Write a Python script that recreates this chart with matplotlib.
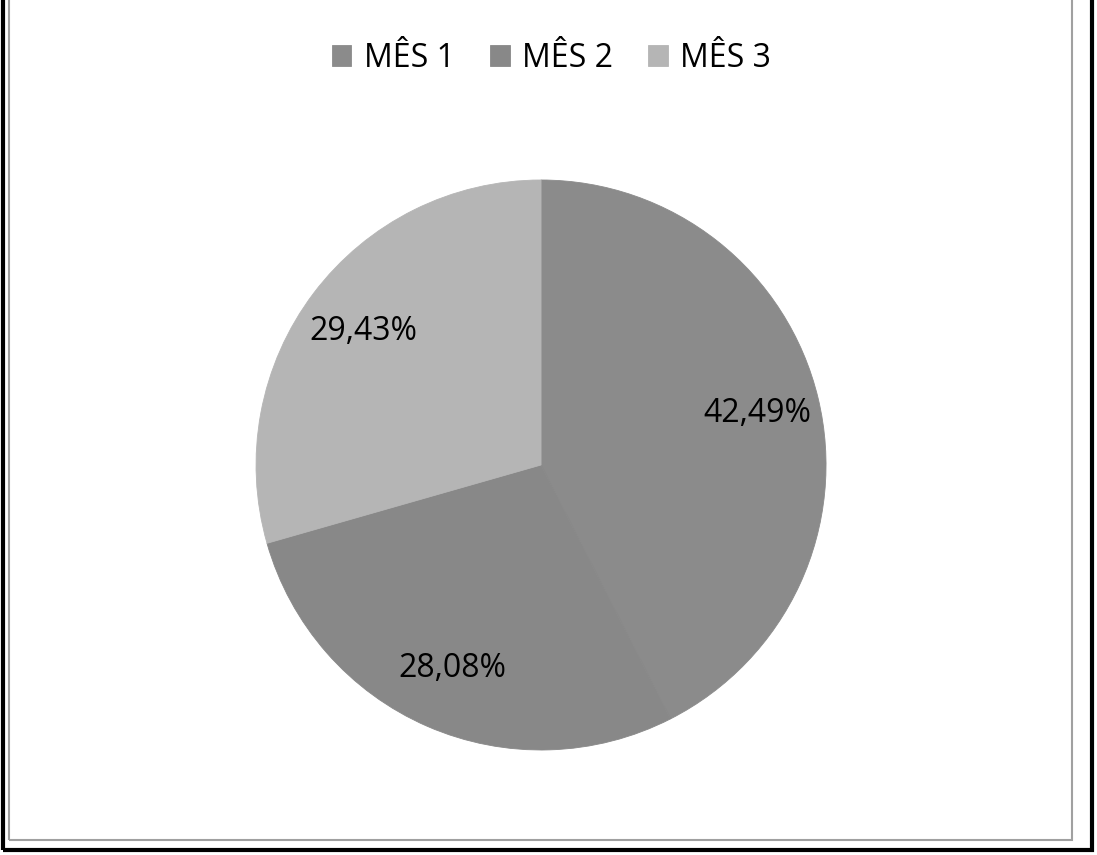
import matplotlib.pyplot as plt
from matplotlib.patches import Rectangle

LABELS = ["MÊS 1", "MÊS 2", "MÊS 3"]
VALUES = [42.49, 28.08, 29.43]
COLORS = ["#8b8b8b", "#888888", "#b5b5b5"]

plt.rcParams["font.family"] = ["Open Sans", "DejaVu Sans"]

fig = plt.figure(figsize=(10.97, 8.55), dpi=100)

# outer black frame and inner gray chart border
fig.add_artist(Rectangle((0.003, 0.006), 0.992, 1.0, transform=fig.transFigure,
                         fill=False, edgecolor="black", linewidth=3))
fig.add_artist(Rectangle((0.008, 0.018), 0.969, 0.985, transform=fig.transFigure,
                         fill=False, edgecolor="#a0a0a0", linewidth=1.5))

ax = fig.add_axes([0.2334, 0.1228, 0.5196, 0.6667])
wedges, texts, autotexts = ax.pie(
    VALUES,
    colors=COLORS,
    startangle=90,
    counterclock=False,
    autopct=lambda p: f"{p:.2f}%".replace(".", ","),
    pctdistance=0.78,
)
for w in wedges:
    # hide the thin seam between the slices
    w.set_edgecolor(w.get_facecolor())
    w.set_linewidth(0.6)
for t in autotexts:
    t.set_fontsize(23)
    t.set_color("black")
ax.set_xlim(-1, 1)
ax.set_ylim(-1, 1)
ax.set_aspect("equal")

fig.legend(wedges, LABELS, loc="center", bbox_to_anchor=(0.503, 0.932), ncol=3,
           frameon=False, fontsize=23, handlelength=0.6, handleheight=0.6,
           handletextpad=0.4, columnspacing=1.1)

fig.savefig("out.png", dpi=100)
